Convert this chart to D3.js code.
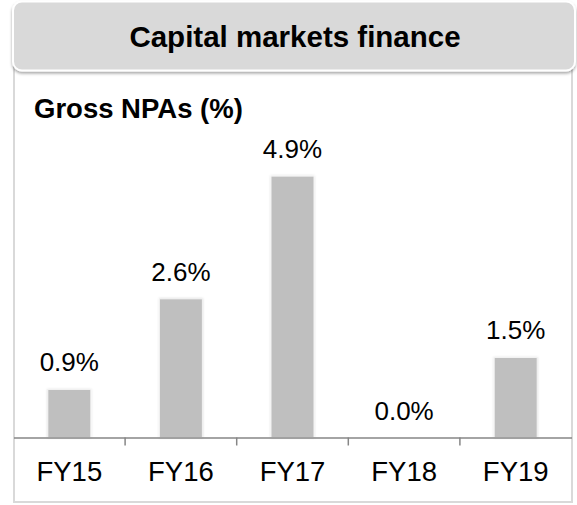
<!DOCTYPE html>
<html>
<head>
<meta charset="utf-8">
<script src="https://cdn.jsdelivr.net/npm/d3@7"></script>
<style>
  html, body { margin: 0; padding: 0; background: #fff; }
  svg { display: block; font-family: "Liberation Sans", Arial, sans-serif; }
</style>
</head>
<body>
<svg id="chart" width="577" height="505"></svg>
<script>
const title = "Capital markets finance";
const subtitle = "Gross NPAs (%)";
const categories = ["FY15", "FY16", "FY17", "FY18", "FY19"];
const values = [0.9, 2.6, 4.9, 0.0, 1.5];
const valueLabels = ["0.9%", "2.6%", "4.9%", "0.0%", "1.5%"];

const svg = d3.select("#chart");
const defs = svg.append("defs");
const sh = defs.append("filter").attr("id", "shadow").attr("x", "-5%").attr("y", "-10%").attr("width", "110%").attr("height", "130%");
sh.append("feDropShadow").attr("dx", 0).attr("dy", 2).attr("stdDeviation", 1.5).attr("flood-color", "#000").attr("flood-opacity", 0.35);
const bsh = defs.append("filter").attr("id", "barshadow").attr("x", "-20%").attr("y", "-10%").attr("width", "140%").attr("height", "120%");
bsh.append("feDropShadow").attr("dx", 0).attr("dy", 0).attr("stdDeviation", 1).attr("flood-color", "#000").attr("flood-opacity", 0.15);

// Panel
svg.append("rect")
  .attr("x", 14).attr("y", 60).attr("width", 558).attr("height", 442)
  .attr("fill", "#fff").attr("stroke", "#d9d9d9").attr("stroke-width", 2);

// Header
svg.append("rect")
  .attr("x", 13).attr("y", 1.5).attr("width", 562).attr("height", 69).attr("rx", 9)
  .attr("fill", "#d9d9d9").attr("stroke", "#fff").attr("stroke-width", 2)
  .attr("filter", "url(#shadow)");
svg.append("text")
  .attr("x", 295).attr("y", 47).attr("text-anchor", "middle")
  .attr("font-size", 29.5).attr("font-weight", "bold").attr("fill", "#000")
  .text(title);

svg.append("text")
  .attr("x", 34).attr("y", 118)
  .attr("font-size", 27.5).attr("font-weight", "bold").attr("fill", "#000")
  .text(subtitle);

const x = d3.scaleBand().domain(categories).range([13.5, 571.5]).paddingInner(0.615).paddingOuter(0.3075);
const y = d3.scaleLinear().domain([0, 5]).range([437.5, 170.8]);
const step = x.step();

const g = svg.append("g");
g.selectAll("rect.bar").data(values).join("rect")
  .attr("class", "bar")
  .attr("x", (d, i) => x(categories[i]))
  .attr("y", d => y(d))
  .attr("width", x.bandwidth())
  .attr("height", d => y(0) - y(d))
  .attr("fill", "#bfbfbf")
  .attr("stroke", "#f2f2f2").attr("stroke-width", 1)
  .attr("filter", "url(#barshadow)");

g.selectAll("text.val").data(values).join("text")
  .attr("class", "val")
  .attr("x", (d, i) => x(categories[i]) + x.bandwidth() / 2)
  .attr("y", d => y(d) - 18)
  .attr("text-anchor", "middle").attr("font-size", 26).attr("fill", "#000")
  .text((d, i) => valueLabels[i]);

// Axis
const axis = d3.axisBottom(x).tickSize(0).tickPadding(18);
const ag = svg.append("g").attr("transform", `translate(0,${y(0)})`).call(axis);
ag.select(".domain").attr("stroke", "#868686").attr("stroke-width", 1.5);
ag.selectAll(".tick text").attr("font-size", 27.5).attr("fill", "#000")
  .attr("font-family", "Liberation Sans, Arial, sans-serif").attr("dy", "0.71em").attr("y", 24);
// separators between categories
const seps = categories.slice(0, -1).map(c => x(c) + x.bandwidth() / 2 + step / 2);
ag.selectAll("line.sep").data(seps).join("line")
  .attr("class", "sep")
  .attr("x1", d => d).attr("x2", d => d).attr("y1", 0).attr("y2", 8)
  .attr("stroke", "#868686").attr("stroke-width", 1.5);
</script>
</body>
</html>
